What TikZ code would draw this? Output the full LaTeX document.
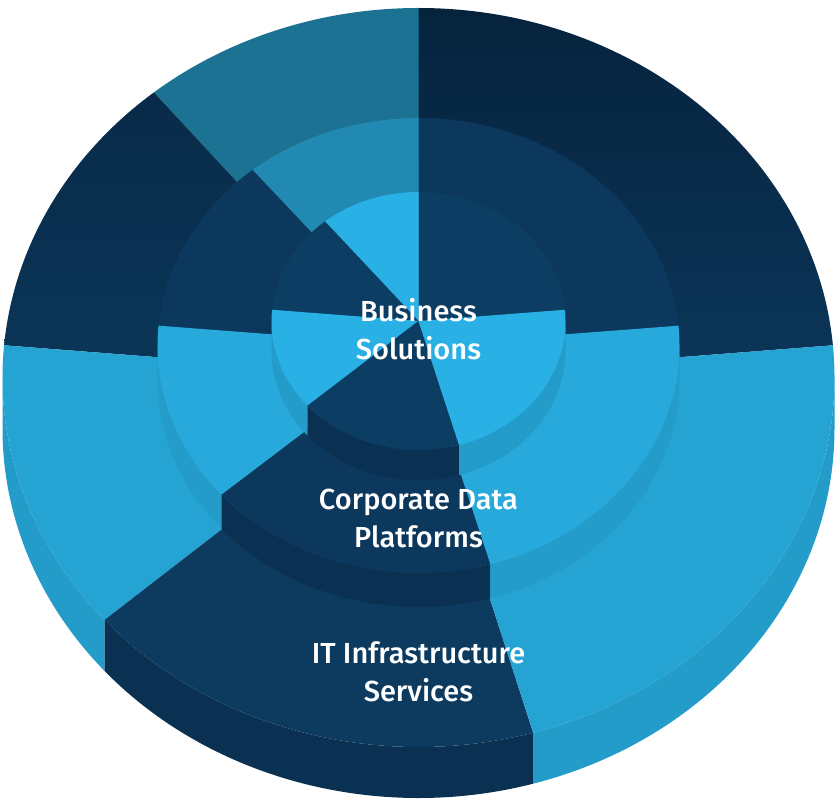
\documentclass[tikz,border=0pt]{standalone}
\usepackage{fontspec}
\setmainfont{Open Sans}
\IfFontExistsTF{Fira Sans Medium}
  {\newfontfamily\lblfamily{Fira Sans Medium}}
  {\newfontfamily\lblfamily{Open Sans}[FakeBold=1.2]}
\usetikzlibrary{calc}
\definecolor{oDark}{HTML}{0B3659}
\definecolor{oDarkTop}{HTML}{06233D}
\definecolor{oDarkBot}{HTML}{0C3B5F}
\definecolor{oTeal}{HTML}{1B7292}
\definecolor{oLight}{HTML}{25A3D3}
\definecolor{mDark}{HTML}{0B385C}
\definecolor{mTeal}{HTML}{2189B2}
\definecolor{mLight}{HTML}{28A9DB}
\definecolor{iDark}{HTML}{0C3D63}
\definecolor{iLight}{HTML}{29B1E6}
\definecolor{sLight}{HTML}{249CCA}
\definecolor{sDark}{HTML}{0A3152}
\tikzset{
  lbl/.style={text=white, align=center, inner sep=0pt,
    font=\lblfamily\fontsize{29}{38}\selectfont},
  % outer tier slices
  oTR/.style={top color=oDarkTop, bottom color=oDark},
  oTop/.style={fill=oTeal},
  oUL/.style={top color=oDarkTop!60!oDark, bottom color=oDark},
  oL/.style={fill=oLight},
  oBot/.style={fill=oDarkBot},
  % middle tier slices
  mTR/.style={fill=mDark},
  mTop/.style={fill=mTeal},
  mUL/.style={fill=mDark},
  mL/.style={fill=mLight},
  mBot/.style={fill=mDark},
  % inner tier slices
  iTR/.style={fill=iDark},
  iTop/.style={fill=iLight},
  iUL/.style={fill=iDark},
  iL/.style={fill=iLight},
  iBot/.style={fill=iDark},
}
% #1 cx, #2 cy, #3 a, #4 b, #5 t1, #6 t2, #7 fill options
\newcommand{\topslice}[7]{%
  \path[#7] (#1,#2) -- ++(#5:#3 and #4)
    arc[start angle=#5, end angle=#6, x radius=#3, y radius=#4] -- cycle;}
% side band: #1 cx, #2 cy, #3 a, #4 b, #5 s1, #6 s2, #7 h, #8 fill
\newcommand{\sideband}[8]{%
  \fill[#8] (#1,#2) ++(#5:#3 and #4)
    arc[start angle=#5, end angle=#6, x radius=#3, y radius=#4]
    -- ++(0,-#7)
    arc[start angle=#6, end angle=#5, x radius=#3, y radius=#4] -- cycle;}
% a whole tier: #1 cx #2 cy #3 a #4 b #5 h #6 style prefix
\newcommand{\tier}[6]{%
  \sideband{#1}{#2}{#3}{#4}{180}{221}{#5}{sLight}
  \sideband{#1}{#2}{#3}{#4}{221}{286}{#5}{sDark}
  \sideband{#1}{#2}{#3}{#4}{286}{360}{#5}{sLight}
  \topslice{#1}{#2}{#3}{#4}{5}{90}{#6TR}
  \topslice{#1}{#2}{#3}{#4}{90}{129.5}{#6Top}
  \topslice{#1}{#2}{#3}{#4}{129.5}{175}{#6UL}
  \topslice{#1}{#2}{#3}{#4}{175}{221}{#6L}
  \topslice{#1}{#2}{#3}{#4}{221}{286}{#6Bot}
  \topslice{#1}{#2}{#3}{#4}{286}{365}{#6L}}
\begin{document}
\begin{tikzpicture}[x=1pt,y=1pt]
\fill[white] (0,0) rectangle (836,-799);
\useasboundingbox (0,0) rectangle (836,-799);
\tier{418.5}{-377.5}{416}{369.5}{51}{o}
\tier{418.5}{-345.5}{261}{227.5}{34}{m}
\tier{418.5}{-321}{147}{129}{30}{i}
\node[lbl] (bs) at (418.5,-329) {Business\\Solutions};
\node[lbl] (cdp) at (418.5,-518) {Corporate Data\\Platforms};
\node[lbl] (its) at (418.5,-671.5) {IT Infrastructure\\Services};
\end{tikzpicture}
\end{document}
